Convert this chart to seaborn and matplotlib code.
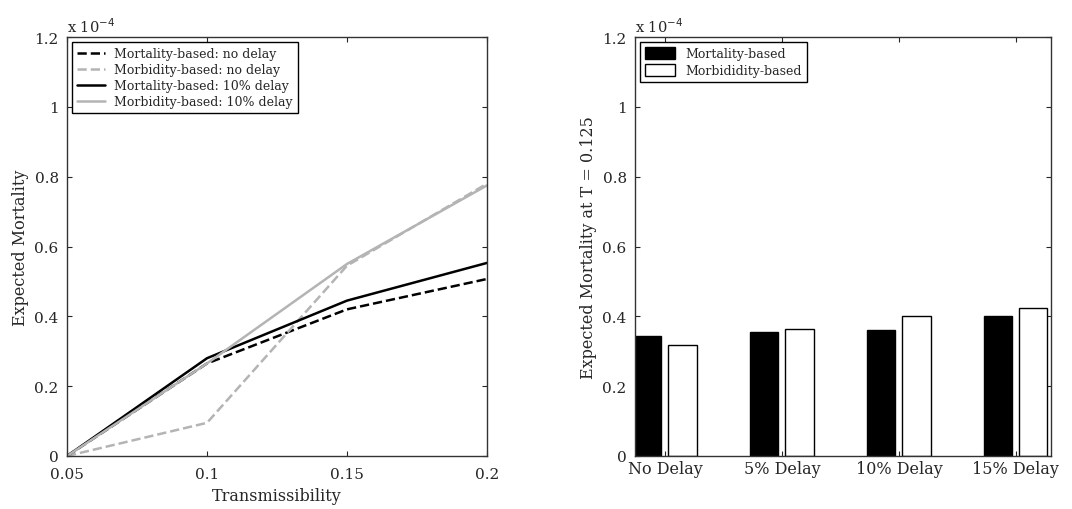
import numpy as np
import pandas as pd
import matplotlib.pyplot as plt
import seaborn as sns

# data (values in units of 1e-4)
transmissibility = [0.05, 0.1, 0.15, 0.2]
mort_no_delay = [0.0, 0.265, 0.42, 0.507]
morb_no_delay = [0.0, 0.095, 0.545, 0.78]
mort_10_delay = [0.0, 0.28, 0.445, 0.553]
morb_10_delay = [0.0, 0.265, 0.55, 0.775]

delay_labels = ["No Delay", "5% Delay", "10% Delay", "15% Delay"]
bar_mortality = [0.343, 0.354, 0.361, 0.40]
bar_morbidity = [0.318, 0.364, 0.40, 0.424]

sns.set_style("ticks")
plt.rcParams['font.family'] = ['DejaVu Serif']
plt.rcParams['font.size'] = 11
plt.rcParams['axes.edgecolor'] = '#333333'
plt.rcParams['xtick.direction'] = 'in'
plt.rcParams['ytick.direction'] = 'in'
plt.rcParams['xtick.top'] = True
plt.rcParams['ytick.right'] = True
plt.rcParams['xtick.major.pad'] = 8
plt.rcParams['ytick.major.pad'] = 6

fig = plt.figure(figsize=(10.72, 5.10), dpi=100)
ax1 = fig.add_axes([67 / 1072, 53 / 510, 420 / 1072, 419 / 510])
ax2 = fig.add_axes([635 / 1072, 53 / 510, 416 / 1072, 419 / 510])

# left panel: lines
series = [
    ("Mortality-based: no delay", mort_no_delay, "black", "--"),
    ("Morbidity-based: no delay", morb_no_delay, "#b4b4b4", "--"),
    ("Mortality-based: 10% delay", mort_10_delay, "black", "-"),
    ("Morbidity-based: 10% delay", morb_10_delay, "#b4b4b4", "-"),
]
for name, vals, col, ls in series:
    sns.lineplot(x=transmissibility, y=vals, ax=ax1, color=col, linestyle=ls,
                 linewidth=1.8, label=name)

ax1.set_xlim(0.05, 0.2)
ax1.set_ylim(0, 1.2)
ax1.set_xticks(transmissibility)
ax1.set_xticklabels(["0.05", "0.1", "0.15", "0.2"])
ax1.set_yticks([0, 0.2, 0.4, 0.6, 0.8, 1.0, 1.2])
ax1.set_yticklabels(["0", "0.2", "0.4", "0.6", "0.8", "1", "1.2"])
ax1.set_xlabel("Transmissibility", fontsize=11.5)
ax1.set_ylabel("Expected Mortality", fontsize=11.5)
ax1.text(0, 1.012, r"x 10$^{-4}$", transform=ax1.transAxes, fontsize=10.5)
leg1 = ax1.legend(loc="upper left", fontsize=9, fancybox=False, framealpha=1,
                  edgecolor="black", handlelength=2.2, borderaxespad=0.4,
                  labelspacing=0.25)
leg1.get_frame().set_linewidth(1)

# right panel: grouped bars
df = pd.DataFrame({
    "delay": delay_labels * 2,
    "value": bar_mortality + bar_morbidity,
    "kind": ["Mortality-based"] * 4 + ["Morbididity-based"] * 4,
})
sns.barplot(data=df, x="delay", y="value", hue="kind", ax=ax2,
            palette=["black", "white"], edgecolor="black", linewidth=1,
            width=0.6, gap=0.2, saturation=1)
ax2.set_xlim(-0.256, 3.30)
ax2.set_ylim(0, 1.2)
ax2.set_yticks([0, 0.2, 0.4, 0.6, 0.8, 1.0, 1.2])
ax2.set_yticklabels(["0", "0.2", "0.4", "0.6", "0.8", "1", "1.2"])
ax2.tick_params(axis="x", labelsize=11.5, pad=3)
ax2.set_xlabel("")
ax2.set_ylabel("Expected Mortality at T = 0.125", fontsize=11.5)
ax2.text(0, 1.012, r"x 10$^{-4}$", transform=ax2.transAxes, fontsize=10.5)
leg2 = ax2.legend(loc="upper left", fontsize=9, fancybox=False, framealpha=1,
                  edgecolor="black", title=None, borderaxespad=0.4,
                  handlelength=2.4, handleheight=1.1, labelspacing=0.3)
leg2.get_frame().set_linewidth(1)

for ax in (ax1, ax2):
    for s in ax.spines.values():
        s.set_visible(True)
        s.set_linewidth(1)

fig.savefig("out.png", dpi=100)
